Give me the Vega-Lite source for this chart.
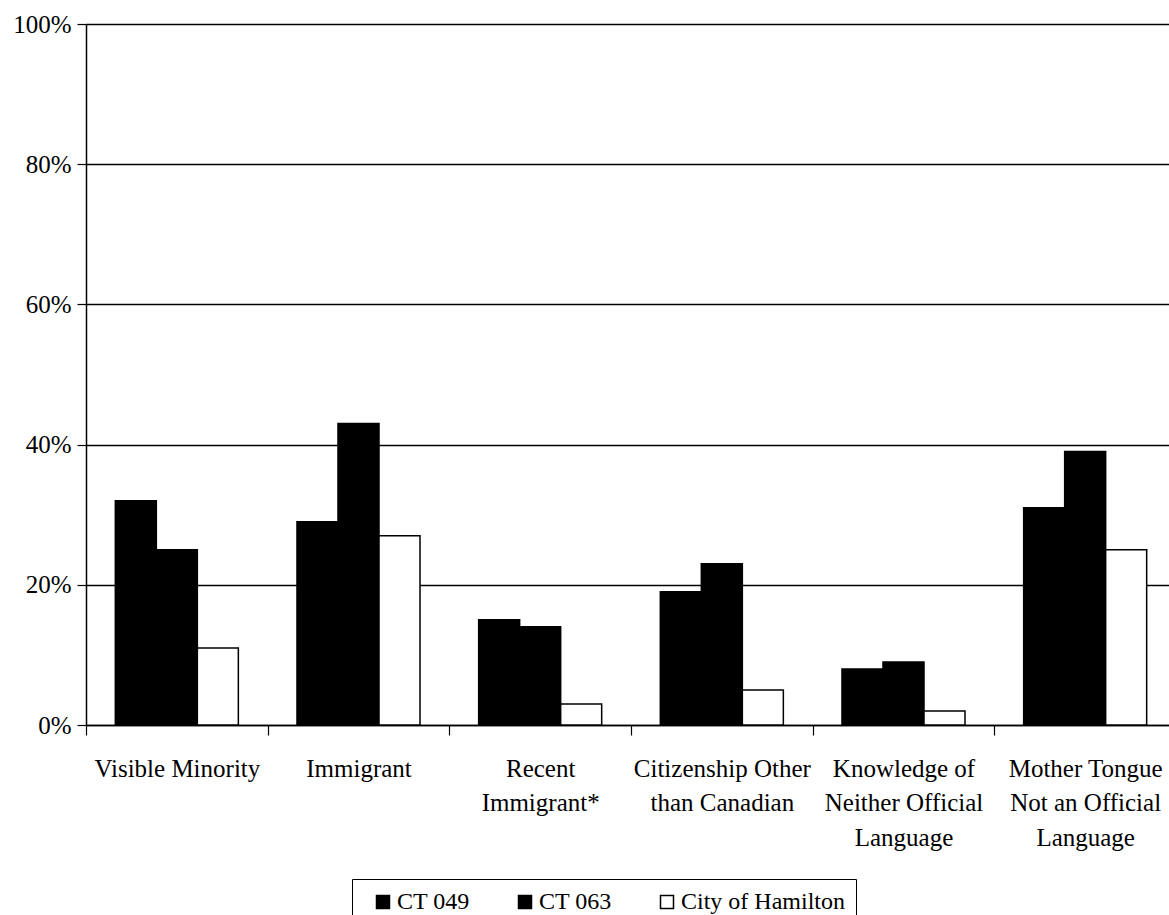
{
  "$schema": "https://vega.github.io/schema/vega-lite/v6.json",
  "width": 1083,
  "height": 701,
  "autosize": "none",
  "padding": {"left": 86, "top": 24, "right": 0, "bottom": 190},
  "background": "white",
  "config": {
    "view": {"stroke": null},
    "font": "Liberation Serif",
    "axis": {"labelColor": "black", "labelFont": "Liberation Serif", "labelFontSize": 25, "domainColor": "black", "domainWidth": 1.5, "tickColor": "black", "tickWidth": 1.2, "title": null}
  },
  "data": {
    "values": [
      {"category": "Visible Minority", "area": "CT 049", "pct": 32},
      {"category": "Visible Minority", "area": "CT 063", "pct": 25},
      {"category": "Visible Minority", "area": "City of Hamilton", "pct": 11},
      {"category": "Immigrant", "area": "CT 049", "pct": 29},
      {"category": "Immigrant", "area": "CT 063", "pct": 43},
      {"category": "Immigrant", "area": "City of Hamilton", "pct": 27},
      {"category": "Recent Immigrant*", "area": "CT 049", "pct": 15},
      {"category": "Recent Immigrant*", "area": "CT 063", "pct": 14},
      {"category": "Recent Immigrant*", "area": "City of Hamilton", "pct": 3},
      {"category": "Citizenship Other than Canadian", "area": "CT 049", "pct": 19},
      {"category": "Citizenship Other than Canadian", "area": "CT 063", "pct": 23},
      {"category": "Citizenship Other than Canadian", "area": "City of Hamilton", "pct": 5},
      {"category": "Knowledge of Neither Official Language", "area": "CT 049", "pct": 8},
      {"category": "Knowledge of Neither Official Language", "area": "CT 063", "pct": 9},
      {"category": "Knowledge of Neither Official Language", "area": "City of Hamilton", "pct": 2},
      {"category": "Mother Tongue Not an Official Language", "area": "CT 049", "pct": 31},
      {"category": "Mother Tongue Not an Official Language", "area": "CT 063", "pct": 39},
      {"category": "Mother Tongue Not an Official Language", "area": "City of Hamilton", "pct": 25}
    ]
  },
  "mark": {"type": "bar", "stroke": "black", "strokeWidth": 1.5},
  "encoding": {
    "x": {
      "field": "category",
      "type": "nominal",
      "sort": ["Visible Minority", "Immigrant", "Recent Immigrant*", "Citizenship Other than Canadian", "Knowledge of Neither Official Language", "Mother Tongue Not an Official Language"],
      "scale": {"range": [0, 1090], "paddingInner": 0, "paddingOuter": 0},
      "axis": {
        "labelAngle": 0,
        "tickBand": "extent",
        "tickSize": 10,
        "labelPadding": 21,
        "labelLineHeight": 34.5,
        "labelLimit": 0,
        "labelExpr": "datum.label == 'Recent Immigrant*' ? ['Recent', 'Immigrant*'] : datum.label == 'Citizenship Other than Canadian' ? ['Citizenship Other', 'than Canadian'] : datum.label == 'Knowledge of Neither Official Language' ? ['Knowledge of', 'Neither Official', 'Language'] : datum.label == 'Mother Tongue Not an Official Language' ? ['Mother Tongue', 'Not an Official', 'Language'] : datum.label"
      }
    },
    "xOffset": {
      "field": "area",
      "type": "nominal",
      "sort": ["CT 049", "CT 063", "City of Hamilton"],
      "scale": {"paddingInner": 0, "paddingOuter": 0.715}
    },
    "y": {
      "field": "pct",
      "type": "quantitative",
      "scale": {"domain": [0, 100]},
      "axis": {
        "values": [0, 20, 40, 60, 80, 100],
        "labelExpr": "datum.value + '%'",
        "tickSize": 9,
        "labelPadding": 6,
        "grid": true,
        "gridColor": "black",
        "gridWidth": 1.5,
        "gridOpacity": 1
      }
    },
    "color": {
      "field": "area",
      "type": "nominal",
      "sort": ["CT 049", "CT 063", "City of Hamilton"],
      "scale": {"domain": ["CT 049", "CT 063", "City of Hamilton"], "range": ["black", "black", "white"]},
      "legend": {
        "title": null,
        "orient": "none",
        "direction": "horizontal",
        "legendX": 266,
        "legendY": 855,
        "padding": 11,
        "symbolOffset": 8,
        "strokeColor": "black",
        "symbolType": "square",
        "symbolSize": 169,
        "symbolStrokeColor": "black",
        "symbolStrokeWidth": 1.5,
        "symbolOpacity": 1,
        "labelFont": "Liberation Serif",
        "labelFontSize": 24,
        "labelColor": "black",
        "labelOffset": 2,
        "labelLimit": 0,
        "columnPadding": 35
      }
    }
  }
}
